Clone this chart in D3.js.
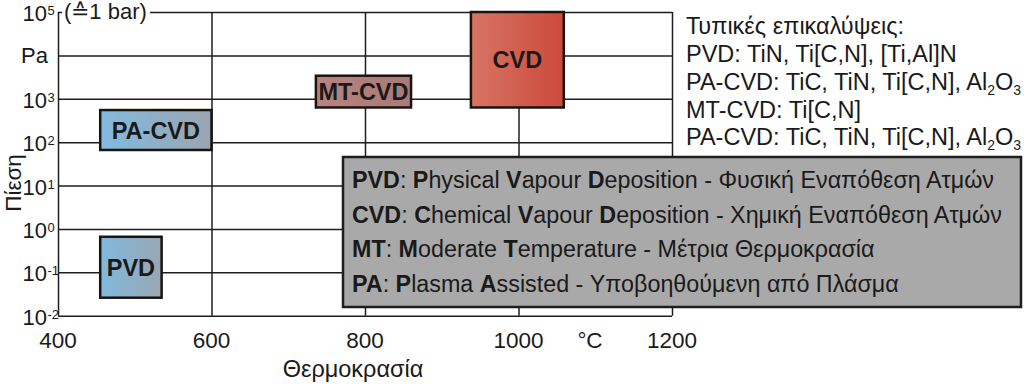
<!DOCTYPE html>
<html><head><meta charset="utf-8">
<script src="https://cdn.jsdelivr.net/npm/d3@7"></script>
<style>
body{margin:0;background:#fff}
svg{display:block}
text{font-family:"Liberation Sans",Arial,Helvetica,sans-serif;fill:#1a1a1a}
</style>
</head><body>
<svg id="chart" width="1024" height="384"></svg>
<script>
// ---- data ----
const processes = ["PVD", "PA-CVD", "MT-CVD", "CVD"];
const tempLow   = [455, 455, 736, 938];
const tempHigh  = [535, 600, 860, 1059];
const pressLow  = [0.026, 66, 630, 630];
const pressHigh = [0.66, 550, 3400, 100000];

const tempTicks  = [400, 600, 800, 1000, 1200];
const pressTicks = [1e-2, 1e-1, 1e0, 1e1, 1e2, 1e3, 1e4, 1e5];
const pressTickExp = ["-2", "-1", "0", "1", "2", "3", null, "5"];
const pressUnitLabel = "Pa";
const topNote = "(\u22591 bar)";
const xTitle = "Θερμοκρασία";
const xUnit = "°C";
const yTitle = "Πίεση";

const coatingTitle = "Τυπικές επικαλύψεις:";
const coatings = [
  "PVD: TiN, Ti[C,N], [Ti,Al]N",
  "PA-CVD: TiC, TiN, Ti[C,N], Al_2O_3",
  "MT-CVD: Ti[C,N]",
  "PA-CVD: TiC, TiN, Ti[C,N], Al_2O_3"
];
const abbreviations = [
  "**PVD**: **P**hysical **V**apour **D**eposition - Φυσική Εναπόθεση Ατμών",
  "**CVD**: **C**hemical **V**apour **D**eposition - Χημική Εναπόθεση Ατμών",
  "**MT**: **M**oderate **T**emperature - Μέτρια Θερμοκρασία",
  "**PA**: **P**lasma **A**ssisted - Υποβοηθούμενη από Πλάσμα"
];

// ---- styles ----
const gradColors = {
  "PVD":    ["#80b9de", "#9aa6b2"],
  "PA-CVD": ["#82badf", "#9ba5b0"],
  "MT-CVD": ["#b8837e", "#a97a77"],
  "CVD":    ["#d77463", "#cc4a3b"]
};

const svg = d3.select("#chart");
const x = d3.scaleLinear().domain([400, 1200]).range([58, 672]);
const y = d3.scaleLog().domain([1e-2, 1e5]).range([315.7, 12]);
const lineCol = "#1e1e1e";

// grid: horizontal
const gY = svg.append("g").attr("transform", `translate(${x(400)},0)`)
  .call(d3.axisLeft(y).tickValues(pressTicks).tickSize(-(x(1200) - x(400))).tickFormat(""));
gY.select(".domain").remove();
gY.selectAll("text").remove();
gY.selectAll("line").attr("stroke", lineCol).attr("stroke-width", 1.5);

// grid: vertical
const gX = svg.append("g").attr("transform", `translate(0,${y(1e-2)})`)
  .call(d3.axisBottom(x).tickValues(tempTicks).tickSize(-(y(1e-2) - y(1e5))).tickFormat(""));
gX.select(".domain").remove();
gX.selectAll("text").remove();
gX.selectAll("line").attr("stroke", lineCol).attr("stroke-width", 1.5);

// x tick labels
tempTicks.forEach(t => {
  svg.append("text").attr("x", x(t)).attr("y", 348).attr("text-anchor", "middle")
    .attr("font-size", 22.5).text(t);
});
svg.append("text").attr("x", 590).attr("y", 348).attr("text-anchor", "middle")
  .attr("font-size", 22.5).text(xUnit);
svg.append("text").attr("x", 353).attr("y", 377).attr("text-anchor", "middle")
  .attr("font-size", 23.5).text(xTitle);

// y tick labels
pressTicks.forEach((p, i) => {
  const yy = y(p);
  if (pressTickExp[i] === null) {
    svg.append("text").attr("x", 48).attr("y", yy + 8).attr("text-anchor", "end")
      .attr("font-size", 22).text(pressUnitLabel);
  } else {
    svg.append("text").attr("x", 47).attr("y", yy + 9).attr("text-anchor", "end")
      .attr("font-size", 22).text("10");
    svg.append("text").attr("x", 47.5).attr("y", yy + 3).attr("font-size", 13)
      .text(pressTickExp[i]);
  }
});
svg.append("text").attr("transform", `translate(21,183) rotate(-90)`)
  .attr("text-anchor", "middle").attr("font-size", 22.5).text(yTitle);

// note at 10^5
svg.append("rect").attr("x", 62).attr("y", y(1e5) - 3).attr("width", 88).attr("height", 6).attr("fill", "#fff");
svg.append("text").attr("x", 64).attr("y", y(1e5) + 7).attr("font-size", 22).text(topNote);

// gradients
const defs = svg.append("defs");
processes.forEach((p, i) => {
  const g = defs.append("linearGradient").attr("id", "g" + i).attr("x1", "0").attr("x2", "1").attr("y1", "0").attr("y2", "0");
  g.append("stop").attr("offset", "0").attr("stop-color", gradColors[p][0]);
  g.append("stop").attr("offset", "1").attr("stop-color", gradColors[p][1]);
});

// process boxes
processes.forEach((p, i) => {
  const x0 = x(tempLow[i]), x1 = x(tempHigh[i]);
  const y0 = y(pressHigh[i]), y1 = y(pressLow[i]);
  svg.append("rect").attr("x", x0).attr("y", y0).attr("width", x1 - x0).attr("height", y1 - y0)
    .attr("fill", `url(#g${i})`).attr("stroke", "#1a1410").attr("stroke-width", 2.5);
  svg.append("text").attr("x", (x0 + x1) / 2).attr("y", (y0 + y1) / 2 + 8.5)
    .attr("text-anchor", "middle").attr("font-size", 23.5).attr("font-weight", "bold")
    .attr("fill", "#1a1a1a").text(p);
});

// coatings text with subscripts
function addSubText(sel, str) {
  const parts = str.split(/(_\d)/).filter(s => s);
  let shift = 0;
  parts.forEach(pt => {
    if (pt.startsWith("_")) {
      sel.append("tspan").attr("font-size", 14).attr("dy", 5 - shift).text(pt.slice(1));
      shift = 5;
    } else {
      sel.append("tspan").attr("dy", -shift).text(pt);
      shift = 0;
    }
  });
}
const coatY = [34, 62, 90, 118, 145];
svg.append("text").attr("x", 686).attr("y", coatY[0]).attr("font-size", 23.5).text(coatingTitle);
coatings.forEach((c, i) => {
  const t = svg.append("text").attr("x", 686).attr("y", coatY[i + 1]).attr("font-size", 23.5);
  addSubText(t, c);
});

// abbreviation box
svg.append("rect").attr("x", 343).attr("y", 157).attr("width", 678).attr("height", 150)
  .attr("fill", "#a9a9a9").attr("stroke", "#1e1e1e").attr("stroke-width", 2.5);
const abbrY = [188, 223, 257, 292];
abbreviations.forEach((a, i) => {
  const t = svg.append("text").attr("x", 352).attr("y", abbrY[i]).attr("font-size", 23.3);
  a.split("**").forEach((pt, k) => {
    if (!pt) return;
    t.append("tspan").attr("font-weight", k % 2 === 1 ? "bold" : "normal").text(pt);
  });
});
</script>
</body></html>
